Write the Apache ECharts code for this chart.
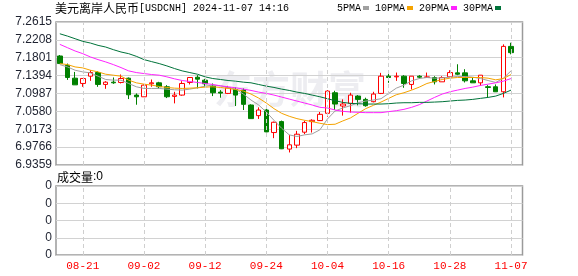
<!DOCTYPE html>
<html><head><meta charset="utf-8">
<script src="https://cdn.jsdelivr.net/npm/echarts@6/dist/echarts.min.js"></script>
<style>html,body{margin:0;padding:0;background:#fff}#c{width:578px;height:276px}</style>
</head><body><div id="c"></div>
<script>
const categories = ['08-16','08-19','08-20','08-21','08-22','08-23','08-26','08-27','08-28','08-29','08-30',
 '09-02','09-03','09-04','09-05','09-06','09-09','09-10','09-11','09-12','09-13','09-16','09-17','09-18','09-19','09-20','09-23','09-24','09-25','09-26','09-27','09-30',
 '10-01','10-02','10-03','10-04','10-07','10-08','10-09','10-10','10-11','10-14','10-15','10-16','10-17','10-18','10-21','10-22','10-23','10-24','10-25','10-28','10-29','10-30','10-31',
 '11-01','11-04','11-05','11-06','11-07'];
const dateTicks = ['08-21','09-02','09-12','09-24','10-04','10-16','10-28','11-07'];
const priceTicks = ['6.9359','6.9766','7.0173','7.0580','7.0987','7.1394','7.1801','7.2208','7.2615'];
// [open, close, low, high]
const candles = [
 [7.1841,7.1669,7.1669,7.1863],[7.1630,7.1352,7.1297,7.1669],[7.1336,7.1184,7.1184,7.1478],[7.1216,7.1329,7.1139,7.1329],
 [7.1381,7.1465,7.1275,7.1517],[7.1465,7.1193,7.1139,7.1494],[7.1193,7.1245,7.1094,7.1268],[7.1245,7.1230,7.1207,7.1352],
 [7.1238,7.1329,7.1216,7.1420],[7.1336,7.0958,7.0860,7.1352],[7.0951,7.0912,7.0731,7.0989],[7.0912,7.1177,7.0912,7.1193],
 [7.1208,7.1230,7.1140,7.1306],[7.1230,7.1140,7.1102,7.1253],[7.1140,7.0913,7.0883,7.1177],[7.0921,7.0951,7.0762,7.1026],
 [7.0951,7.1215,7.0936,7.1268],[7.1238,7.1351,7.1193,7.1351],[7.1358,7.1313,7.1102,7.1404],[7.1291,7.1208,7.1140,7.1321],
 [7.1155,7.1004,7.0928,7.1215],[7.1019,7.0996,7.0891,7.1064],[7.0989,7.1117,7.0974,7.1162],[7.1079,7.0951,7.0702,7.1125],
 [7.1064,7.0740,7.0611,7.1102],[7.0725,7.0415,7.0408,7.0740],[7.0483,7.0611,7.0408,7.0672],[7.0611,7.0113,7.0106,7.0702],
 [7.0098,7.0332,6.9970,7.0347],[7.0347,6.9728,6.9721,7.0370],[6.9721,6.9819,6.9645,7.0045],[6.9811,7.0060,6.9743,7.0136],
 [7.0106,7.0325,7.0060,7.0370],[7.0347,7.0377,7.0098,7.0400],[7.0370,7.0513,7.0362,7.0566],[7.0536,7.1041,7.0460,7.1064],
 [7.1004,7.0747,7.0611,7.1049],[7.0702,7.0747,7.0483,7.0853],[7.0762,7.0951,7.0551,7.1004],[7.0928,7.0853,7.0717,7.0951],
 [7.0853,7.0709,7.0687,7.0891],[7.0800,7.0974,7.0785,7.1026],[7.0989,7.1381,7.0974,7.1457],[7.1381,7.1351,7.1230,7.1441],
 [7.1366,7.1381,7.1275,7.1464],[7.1381,7.1215,7.1117,7.1404],[7.1193,7.1381,7.1079,7.1381],[7.1381,7.1358,7.1328,7.1404],
 [7.1351,7.1366,7.1351,7.1464],[7.1351,7.1253,7.1193,7.1381],[7.1253,7.1351,7.1253,7.1381],[7.1366,7.1464,7.1366,7.1517],
 [7.1457,7.1426,7.1404,7.1653],[7.1457,7.1276,7.1238,7.1540],[7.1276,7.1230,7.1230,7.1351],[7.1230,7.1404,7.1162,7.1404],
 [7.1140,7.1125,7.0898,7.1177],[7.1140,7.1026,7.1026,7.1193],[7.1026,7.2060,7.0898,7.2106],[7.2060,7.1917,7.1879,7.2143]
];
const ma5 = [7.1645,7.1592,7.1517,7.1479,7.1457,7.1381,7.1306,7.1291,7.1291,7.1215,7.1140,7.1102,
 7.1102,7.1102,7.1087,7.1072,7.1064,7.1087,7.1117,7.1155,7.1177,7.1162,7.1125,7.1087,
 7.0974,7.0838,7.0725,7.0566,7.0377,7.0196,7.0045,7.0008,7.0045,7.0068,7.0159,7.0408,
 7.0589,7.0657,7.0709,7.0777,7.0815,7.0838,7.0868,7.0989,7.1109,7.1177,7.1275,7.1328,
 7.1351,7.1336,7.1343,7.1359,7.1374,7.1374,7.1359,7.1328,7.1283,7.1238,7.1336,7.1502];
const ma10 = [7.1668,7.1645,7.1592,7.1570,7.1517,7.1479,7.1426,7.1404,7.1381,7.1291,7.1230,7.1200,
 7.1177,7.1147,7.1125,7.1109,7.1102,7.1109,7.1117,7.1132,7.1140,7.1125,7.1102,7.1079,
 7.1042,7.0974,7.0883,7.0770,7.0642,7.0536,7.0468,7.0415,7.0377,7.0347,7.0309,7.0279,
 7.0287,7.0362,7.0430,7.0536,7.0642,7.0717,7.0792,7.0876,7.0959,7.1004,7.1064,7.1132,
 7.1215,7.1260,7.1306,7.1336,7.1351,7.1351,7.1351,7.1351,7.1336,7.1298,7.1328,7.1419];
const ma20 = [7.2106,7.2030,7.1955,7.1894,7.1819,7.1759,7.1706,7.1645,7.1577,7.1502,7.1464,7.1441,
 7.1419,7.1404,7.1366,7.1321,7.1283,7.1260,7.1238,7.1215,7.1192,7.1162,7.1140,7.1117,
 7.1087,7.1057,7.1019,7.0989,7.0951,7.0906,7.0860,7.0815,7.0770,7.0725,7.0672,7.0657,
 7.0611,7.0581,7.0566,7.0559,7.0551,7.0551,7.0551,7.0574,7.0596,7.0626,7.0672,7.0732,
 7.0815,7.0898,7.0974,7.1026,7.1064,7.1102,7.1132,7.1170,7.1200,7.1230,7.1268,7.1328];
const ma30 = [7.2347,7.2294,7.2234,7.2174,7.2136,7.2083,7.2045,7.1985,7.1932,7.1894,7.1834,7.1759,
 7.1713,7.1668,7.1615,7.1555,7.1502,7.1464,7.1426,7.1366,7.1328,7.1306,7.1283,7.1268,
 7.1245,7.1230,7.1192,7.1155,7.1125,7.1087,7.1057,7.1019,7.0989,7.0951,7.0913,7.0868,
 7.0823,7.0785,7.0762,7.0755,7.0747,7.0747,7.0747,7.0755,7.0770,7.0777,7.0777,7.0785,
 7.0785,7.0792,7.0800,7.0815,7.0830,7.0838,7.0853,7.0876,7.0898,7.0928,7.0989,7.1064];
const volumes = new Array(60).fill(0);
const volTicks = ['0','0','0','0','0'];

const axisCats = categories.concat(['']);
const showTick = (i, v) => dateTicks.indexOf(v) >= 0;
const vLines = dateTicks.map(d => ({xAxis: d}));
const markVert = {
  silent: true, symbol: ['none','none'], label: {show: false}, animation: false,
  lineStyle: {type: [4, 3], color: '#cfcfcf', width: 1}, emphasis: {disabled: true},
  data: vLines
};
const maColors = ['#a0a0a0', '#f5a300', '#ff22ff', '#00733a'];
const lineS = (name, data, c) => ({
  name, type: 'line', data, xAxisIndex: 0, yAxisIndex: 0, showSymbol: false, symbol: 'none',
  lineStyle: {width: 1, color: c}, itemStyle: {color: c}, z: 3, silent: true
});

const chart = echarts.init(document.getElementById('c'), null, {renderer: 'canvas'});
chart.setOption({
  animation: false,
  backgroundColor: '#fff',
  title: [
    {left: 55, top: 2, padding: 0, text: '{a|美元离岸人民币}{b|[USDCNH] 2024-11-07 14:16}',
     textStyle: {fontWeight: 'normal', rich: {
       a: {fontFamily: 'Noto Sans CJK SC', fontSize: 12, fontWeight: 'normal', color: '#000'},
       b: {fontFamily: 'Liberation Mono', fontSize: 10, fontWeight: 'normal', color: '#000'}}}},
    {left: 57, top: 171, padding: 0, text: '{a|成交量}{b|:0}',
     textStyle: {fontWeight: 'normal', rich: {
       a: {fontFamily: 'Noto Sans CJK SC', fontSize: 12, fontWeight: 'normal', color: '#000'},
       b: {fontFamily: 'Liberation Sans', fontSize: 12, fontWeight: 'normal', color: '#000'}}}}
  ],
  legend: {
    left: 337, top: 3, padding: 0, align: 'right', itemGap: 6, itemWidth: 6, itemHeight: 4,
    icon: 'rect', selectedMode: false,
    textStyle: {fontFamily: 'Liberation Mono', fontSize: 10, color: '#000', padding: [0, -3, 0, 0]},
    data: ['5PMA', '10PMA', '20PMA', '30PMA']
  },
  graphic: [{
    type: 'text', left: 214, top: 70, z: -1, silent: true,
    style: {text: '东方财富', fontFamily: 'Noto Sans CJK SC', fontSize: 38, fontWeight: 'bold',
      fill: 'rgba(215,215,225,0.45)'}
  }],
  grid: [
    {left: 56, top: 22, width: 466.5, height: 143, show: true, borderColor: '#9a9a9a', borderWidth: 1.5, backgroundColor: 'transparent'},
    {left: 56, top: 186, width: 466.5, height: 69, show: true, borderColor: '#9a9a9a', borderWidth: 1.5, backgroundColor: 'transparent'}
  ],
  xAxis: [
    {type: 'category', gridIndex: 0, data: axisCats, boundaryGap: true,
     axisLine: {show: false}, axisTick: {show: false}, axisLabel: {show: false}, splitLine: {show: false}},
    {type: 'category', gridIndex: 1, data: axisCats, boundaryGap: true,
     axisLine: {show: false}, axisTick: {show: false}, splitLine: {show: false},
     axisLabel: {interval: showTick, color: '#ff0000', fontFamily: 'Liberation Mono', fontSize: 11, margin: 6}}
  ],
  yAxis: [
    {type: 'value', gridIndex: 0, min: 6.9359, max: 7.2615, interval: 0.0407, scale: true,
     axisLine: {show: false}, axisTick: {show: false},
     axisLabel: {margin: 4, color: '#1e2230', fontFamily: 'Liberation Sans', fontSize: 12,
       formatter: v => { const s = v.toFixed(4); return priceTicks.indexOf(s) >= 0 ? s : ''; }},
     splitLine: {show: true, lineStyle: {color: '#d2d2d2', width: 1}}},
    {type: 'value', gridIndex: 1, min: 0, max: 4, interval: 1,
     axisLine: {show: false}, axisTick: {show: false},
     axisLabel: {margin: 4, color: '#1e2230', fontFamily: 'Liberation Sans', fontSize: 12,
       formatter: (v) => volTicks[Math.round(v)]},
     splitLine: {show: true, lineStyle: {color: '#d2d2d2', width: 1}}}
  ],
  series: [
    {type: 'line', name: 'grid', data: [], xAxisIndex: 0, yAxisIndex: 0, z: 1, markLine: markVert, silent: true},
    {type: 'candlestick', name: 'K', data: candles, xAxisIndex: 0, yAxisIndex: 0, barWidth: 5, z: 2,
     itemStyle: {color: '#ffffff', color0: '#008000', borderColor: '#ff0000', borderColor0: '#008000', borderWidth: 1},
     silent: true},
    lineS('5PMA', ma5, maColors[0]),
    lineS('10PMA', ma10, maColors[1]),
    lineS('20PMA', ma20, maColors[2]),
    lineS('30PMA', ma30, maColors[3]),
    {type: 'bar', name: 'vol', data: volumes, xAxisIndex: 1, yAxisIndex: 1, barWidth: 5,
     itemStyle: {color: '#008000'}, markLine: markVert, silent: true}
  ]
});
</script></body></html>
